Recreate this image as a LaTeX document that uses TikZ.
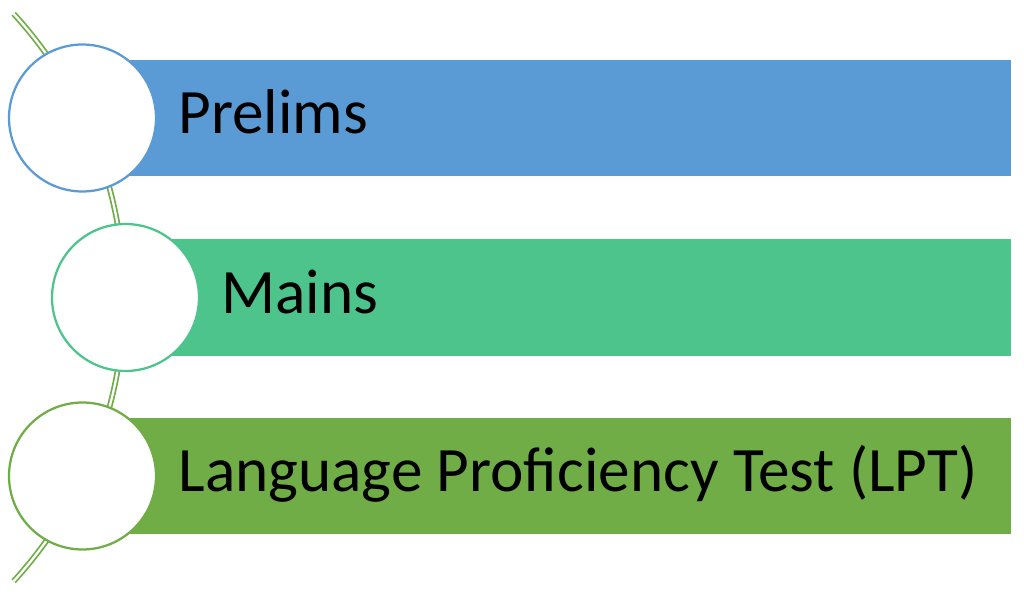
\documentclass[tikz,border=0pt]{standalone}
\usepackage{fontspec}
\setmainfont{Carlito}
\usepackage{tikz}
\usetikzlibrary{calc}
\definecolor{prelimblue}{HTML}{5B9BD5}
\definecolor{mainsgreen}{HTML}{4CC48C}
\definecolor{lptgreen}{HTML}{70AD47}
\tikzset{
	stagebar/.style={draw=none, rectangle, inner sep=0pt, anchor=west, minimum height=2.33cm},
	stagering/.style={circle, fill=white, line width=0.045cm, minimum size=2.94cm, inner sep=0pt},
	stagetext/.style={font=\fontsize{36}{42}\selectfont, anchor=base west, inner sep=0pt},
}

\begin{document}
\begin{tikzpicture}[x=0.02cm,y=0.02cm]
\useasboundingbox (0,0) rectangle (1024,595);
\coordinate (arcc) at (-296,297.5);
\draw[lptgreen, line width=0.035cm, double=white, double distance=0.045cm]
	(arcc) ++(42.5:420) arc[start angle=42.5, end angle=-42.5, radius=420];
\foreach \i/\x/\y/\col/\txt in {1/82.5/477/prelimblue/{Prelims},2/125.5/297.5/mainsgreen/{Mains},3/82.5/119/lptgreen/{Language Proficiency Test (LPT)}} {
	\node[stagebar, fill=\col, minimum width={(1011-\x)*0.02cm}] (bar\i) at (\x,\y) {};
	\node[stagering, draw=\col] (ring\i) at (\x,\y) {};
	\node[stagetext] (txt\i) at ($(ring\i.east)+(21,-16)$) {\txt};
}
\end{tikzpicture}
\end{document}
